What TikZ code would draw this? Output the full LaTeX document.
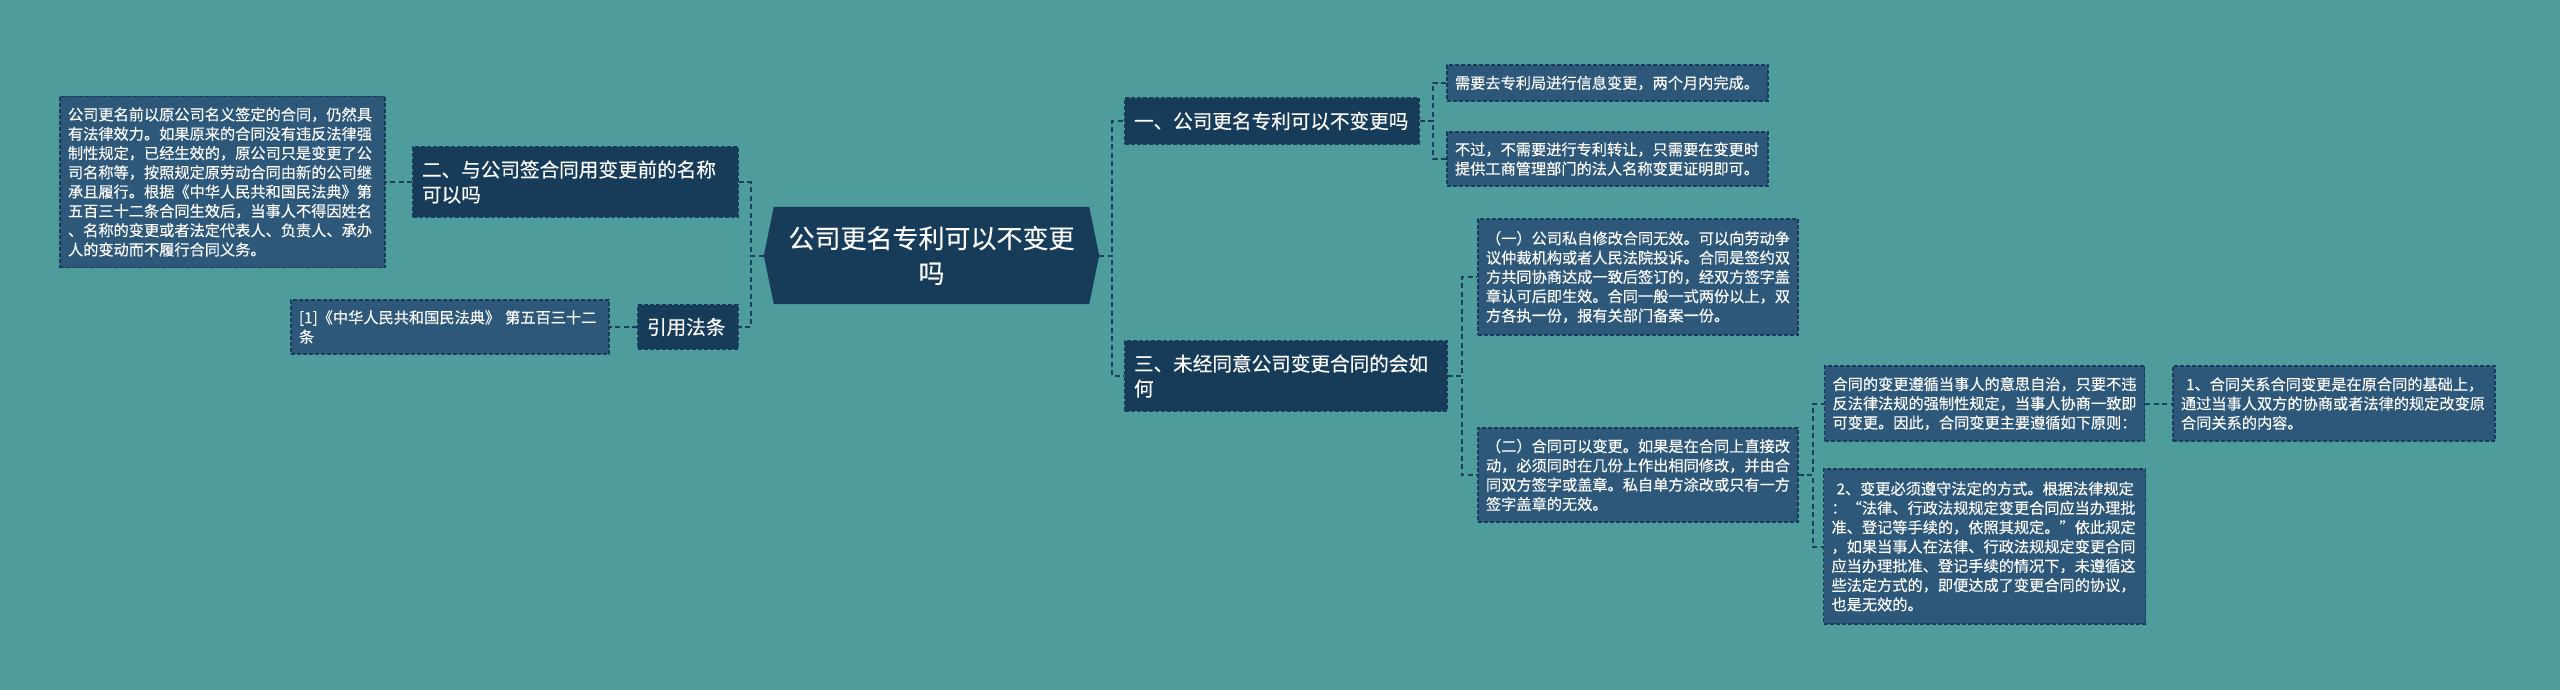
\documentclass[tikz,border=0pt]{standalone}
\usepackage{fontspec}
\newfontfamily\cjk[FakeBold=0.25]{Noto Sans CJK SC}
\usetikzlibrary{backgrounds}
\definecolor{bgc}{HTML}{4E9C9B}
\definecolor{darkc}{HTML}{173C5A}
\definecolor{leafc}{HTML}{2E587A}
\definecolor{edgec}{HTML}{173C5A}
\definecolor{linec}{HTML}{1A3F5E}
\begin{document}
\begin{tikzpicture}[x=1pt,y=-1pt,
  box/.style={draw=edgec, line width=1.3pt, dash pattern=on 4pt off 2pt, text=white, align=left, inner ysep=0pt},
  topic/.style={box, fill=darkc, inner xsep=9pt, font=\cjk\fontsize{19.6}{25}\selectfont},
  leaf/.style={box, fill=leafc, inner xsep=8pt, font=\cjk\fontsize{15.2}{19.3}\selectfont},
  conn/.style={draw=linec, line width=2pt, dash pattern=on 5pt off 3.5pt},
  rootbox/.style={text=white, align=center, font=\cjk\fontsize{26}{35}\selectfont, minimum width=335pt, minimum height=97pt, inner sep=0pt}
]
\useasboundingbox (0,0) rectangle (2560,690);

% root
\node[rootbox] (root) at (931.5,255.5) {公司更名专利可以不变更\\吗};

% left side
\node[topic, text width=307pt, minimum height=70pt] (b2) at (575.5,182) {二、与公司签合同用变更前的名称\\可以吗};
\node[leaf, text width=309pt, minimum height=171pt] (l1) at (222.5,182) {公司更名前以原公司名义签定的合同，仍然具\\有法律效力。如果原来的合同没有违反法律强\\制性规定，已经生效的，原公司只是变更了公\\司名称等，按照规定原劳动合同由新的公司继\\承且履行。根据《中华人民共和国民法典》第\\五百三十二条合同生效后，当事人不得因姓名\\、名称的变更或者法定代表人、负责人、承办\\人的变动而不履行合同义务。};
\node[topic, text width=82pt, minimum height=44pt] (cite) at (688,327) {引用法条};
\node[leaf, text width=302pt, minimum height=54pt] (l2) at (450,327) {[1]《中华人民共和国民法典》 第五百三十二\\条};

% right side
\node[topic, inner xsep=9pt, text width=276pt, minimum height=46pt] (b1) at (1272,121) {一、公司更名专利可以不变更吗};
\node[topic, text width=304pt, minimum height=70pt] (b3) at (1286,376) {三、未经同意公司变更合同的会如\\何};

\node[leaf, text width=305pt, minimum height=36pt] (r1a) at (1607.5,83) {需要去专利局进行信息变更，两个月内完成。};
\node[leaf, text width=305pt, minimum height=54pt] (r1b) at (1607.5,159) {不过，不需要进行专利转让，只需要在变更时\\提供工商管理部门的法人名称变更证明即可。};

\node[leaf, text width=304pt, minimum height=116pt] (r3a) at (1638,277) {（一）公司私自修改合同无效。可以向劳动争\\议仲裁机构或者人民法院投诉。合同是签约双\\方共同协商达成一致后签订的，经双方签字盖\\章认可后即生效。合同一般一式两份以上，双\\方各执一份，报有关部门备案一份。};
\node[leaf, text width=304pt, minimum height=94pt] (r3b) at (1638,475) {（二）合同可以变更。如果是在合同上直接改\\动，必须同时在几份上作出相同修改，并由合\\同双方签字或盖章。私自单方涂改或只有一方\\签字盖章的无效。};

\node[leaf, text width=304pt, minimum height=75pt] (r3b1) at (1984.5,403.5) {合同的变更遵循当事人的意思自治，只要不违\\反法律法规的强制性规定，当事人协商一致即\\可变更。因此，合同变更主要遵循如下原则：};
\node[leaf, text width=306pt, minimum height=155pt] (r3b2) at (1984.5,546.5) {\ 2、变更必须遵守法定的方式。根据法律规定\\：“法律、行政法规规定变更合同应当办理批\\准、登记等手续的，依照其规定。”依此规定\\，如果当事人在法律、行政法规规定变更合同\\应当办理批准、登记手续的情况下，未遵循这\\些法定方式的，即便达成了变更合同的协议，\\也是无效的。};
\node[leaf, text width=306pt, minimum height=75pt] (r3b1a) at (2334,403.5) {\ 1、合同关系合同变更是在原合同的基础上，\\通过当事人双方的协商或者法律的规定改变原\\合同关系的内容。};

% background and root hexagon
\begin{scope}[on background layer]
\fill[bgc] (0,0) rectangle (2560,690);
\fill[darkc] (root.west) -- ([xshift=10pt]root.north west) -- ([xshift=-10pt]root.north east) -- (root.east) -- ([xshift=-10pt]root.south east) -- ([xshift=10pt]root.south west) -- cycle;
\end{scope}

% connectors
\draw[conn] (root.west) -- ++(-13,0) |- (b2.east);
\draw[conn] (root.west) -- ++(-13,0) |- (cite.east);
\draw[conn] (b2.west) -- (l1.east);
\draw[conn] (cite.west) -- (l2.east);
\draw[conn] (root.east) -- ++(13,0) |- (b1.west);
\draw[conn] (root.east) -- ++(13,0) |- (b3.west);
\draw[conn] (b1.east) -- ++(13,0) |- (r1a.west);
\draw[conn] (b1.east) -- ++(13,0) |- (r1b.west);
\draw[conn] (b3.east) -- ++(14,0) |- (r3a.west);
\draw[conn] (b3.east) -- ++(14,0) |- (r3b.west);
\draw[conn] (r3b.east) -- ++(14,0) |- (r3b1.west);
\draw[conn] (r3b.east) -- ++(14,0) |- (r3b2.west);
\draw[conn] (r3b1.east) -- (r3b1a.west);
\end{tikzpicture}
\end{document}
